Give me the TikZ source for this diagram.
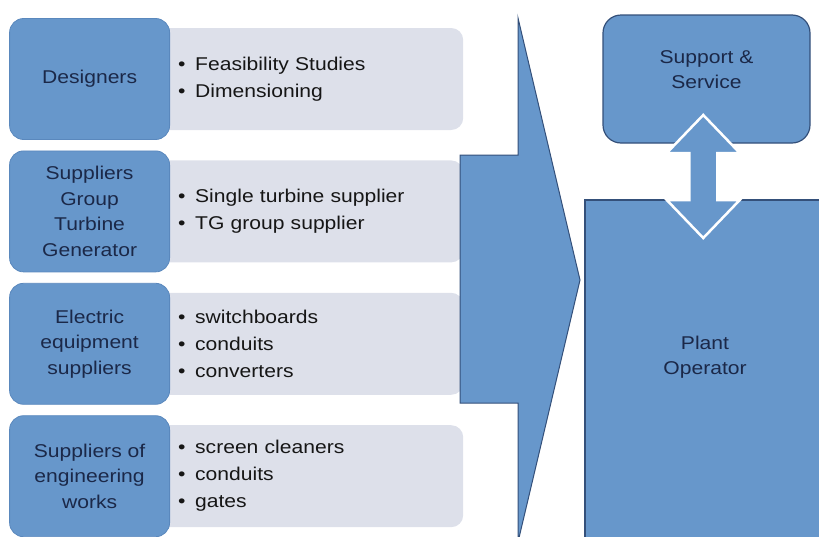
\documentclass[tikz,border=0pt]{standalone}
\usepackage{fontspec}
\setmainfont[FakeStretch=1.14]{Liberation Sans}
\usetikzlibrary{positioning,calc}
\definecolor{boxblue}{HTML}{6797CB}
\definecolor{edgeblue}{HTML}{5A88BD}
\definecolor{darkedge}{HTML}{34507A}
\definecolor{itemgray}{HTML}{DDE0EA}
\definecolor{labelink}{HTML}{1B2848}
\definecolor{itemink}{HTML}{161616}
\newcommand{\itm}{\makebox[17pt][l]{\textbullet}}

\begin{document}
\begin{tikzpicture}[x=1pt,y=-1pt,node distance=30pt,
  role/.style={draw=edgeblue,line width=0.8pt,rounded corners=14pt,fill=boxblue,minimum width=160pt,minimum height=121pt,align=center,text=labelink,font=\fontsize{18.5}{25.5}\selectfont},
  items/.style={rounded corners=12pt,fill=itemgray,text width=257pt,inner xsep=28pt,minimum height=102pt,align=left,text=itemink,font=\fontsize{18.5}{27}\selectfont},
  party/.style={draw=darkedge,line width=1.2pt,fill=boxblue},
  caption/.style={align=center,text=labelink,font=\fontsize{18.5}{25}\selectfont},
  flow/.style={draw=darkedge,line width=1pt,fill=boxblue,line join=miter},
  link/.style={draw=white,line width=2.5pt,fill=boxblue,line join=miter}]
\useasboundingbox (0,0) rectangle (819,536);

% what each supplier delivers (drawn first, the blue boxes sit over their left ends)
\node[items,anchor=west] (desit) at (150,79) {\itm Feasibility Studies\\\itm Dimensioning};
\node[items,below=of desit] (tgit) {\itm Single turbine supplier\\\itm TG group supplier};
\node[items,below=of tgit] (elecit) {\itm switchboards\\\itm conduits\\\itm converters};
\node[items,below=of elecit] (worksit) {\itm screen cleaners\\\itm conduits\\\itm gates};

% suppliers on the left
\node[role,anchor=east] (des) at ([xshift=20pt]desit.west) {Designers};
\node[role,anchor=east] (tg) at ([xshift=20pt]tgit.west) {Suppliers\\Group\\Turbine\\Generator};
\node[role,anchor=east] (elec) at ([xshift=20pt]elecit.west) {Electric\\equipment\\suppliers};
\node[role,anchor=east] (works) at ([xshift=20pt]worksit.west) {Suppliers of\\engineering\\works};

% big arrow towards the plant
\draw[flow] (460,155) -- (518,155) -- (518,18) -- (580,280) -- (518,542) -- (518,403) -- (460,403) -- cycle;

% plant and service
\node[party,minimum width=240pt,minimum height=340pt] (plant) at (705,370) {};
\node[caption] (planttxt) at ([yshift=13pt]plant.center) {Plant\\Operator};
\node[party,rounded corners=18pt,minimum width=207pt,minimum height=128pt] (sup) at (706.5,79) {};
\node[caption] (suptxt) at ([yshift=9pt]sup.center) {Support \&\\Service};

% two-way link
\coordinate (mid) at ($(sup.south)!0.5!(plant.north)+(-2.5,5)$);
\draw[link] ($(mid)+(0,-61.5)$) -- ++(36.5,38) -- ++(-22.5,0) -- ++(0,47) -- ++(22.5,0)
  -- ++(-36.5,38) -- ++(-36.5,-38) -- ++(22.5,0) -- ++(0,-47) -- ++(-22.5,0) -- cycle;
\end{tikzpicture}
\end{document}
